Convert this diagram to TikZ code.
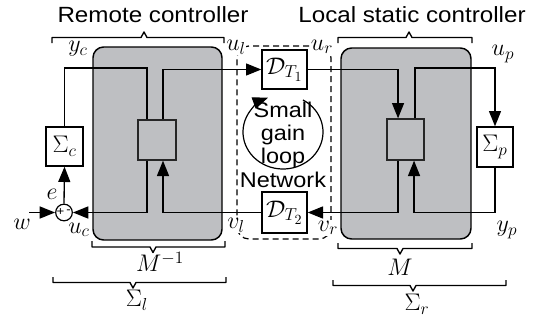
\RequirePackage{fix-cm}
\documentclass[tikz,border=0pt]{standalone}
\usepackage{fontspec}
\newfontfamily\hv[FakeStretch=1.1]{Liberation Sans}
\DeclareMathSizes{18}{18}{13}{10.5}
\usetikzlibrary{arrows.meta,calc}
\definecolor{boxgray}{RGB}{190,191,194}
\begin{document}
\begin{tikzpicture}[x=0.75pt,y=-0.75pt, line width=1pt,
  arr/.style={-{Triangle[length=11.5pt,width=9pt]}},
  blk/.style={draw, fill=boxgray, rounded corners=8pt, line width=1.1pt, inner sep=0pt},
  sq/.style={draw=black!85, fill=boxgray, inner sep=0pt, line width=1pt},
  wbox/.style={draw, fill=white, inner sep=0pt, font=\fontsize{18}{21}\selectfont},
  lab/.style={inner sep=0pt, font=\fontsize{18}{21}\selectfont},
  wlab/.style={lab, fill=white, inner sep=0.5pt},
  ttl/.style={inner sep=0pt, font=\hv\fontsize{16.5}{17}\selectfont, anchor=base},
  sg/.style={inner sep=0pt, font=\hv\fontsize{16}{17}\selectfont, align=center},
  brc/.style={line width=1pt, line join=round}]
\useasboundingbox (0,0) rectangle (541,325);
% helper coordinates
\coordinate (topl) at (0,68);
\coordinate (bot) at (0,212.5);
\coordinate (win) at (29,212.5);
\coordinate (cc) at (283,132);
% titles
\node[ttl] (t1) at (153,22) {Remote controller};
\node[ttl] (t2) at (412,22) {Local static controller};
% blocks
\node[blk, minimum width=96.75pt, minimum height=144.75pt] (LB) at (157.5,143.5) {};
\node[blk, minimum width=97.5pt, minimum height=143.25pt] (RB) at (406,143.5) {};
\node[sq, minimum width=28.5pt, minimum height=30pt] (LSq) at (157,140) {};
\node[sq, minimum width=27.75pt, minimum height=30.75pt] (RSq) at (405.5,139.5) {};
\node[wbox, minimum width=27.75pt, minimum height=29.25pt] (Sc) at (64.5,146.5) {$\Sigma_c$};
\node[wbox, minimum width=27pt, minimum height=30pt] (Sp) at (495,147) {$\Sigma_p$};
% network
\node[draw, dash pattern=on 4.5pt off 3pt, rounded corners=9pt, line width=0.9pt,
      minimum width=70.5pt, minimum height=144.75pt, inner sep=0pt] (NW) at (284,142.5) {};
\node[wbox, minimum width=33.75pt, minimum height=29.25pt] (DT1) at (284.5,69.5) {$\mathcal{D}_{T_1}$};
\node[wbox, minimum width=33.75pt, minimum height=30.75pt] (DT2) at (284.5,212.5) {$\mathcal{D}_{T_2}$};
% summing junction
\node[draw, circle, minimum size=12.5pt, inner sep=0pt, fill=white, line width=0.9pt] (sum) at (64,212.5) {};
\node[inner sep=0pt, font=\hv\fontsize{9}{9}\selectfont] (plus) at (60.5,212) {+};
\node[inner sep=0pt, font=\hv\fontsize{9}{9}\selectfont] (minus) at (68.5,212) {-};
% connectors left
\draw (Sc.north) -- (Sc.north |- topl) -| ([xshift=-7.5pt]LSq.north);
\draw[arr] ([xshift=4.5pt]LSq.north) |- (DT1.west);
\draw[arr] ([xshift=-7.5pt]LSq.south) |- (sum.east);
\draw[arr] (DT2.west) -| ([xshift=4.5pt]LSq.south);
\draw[arr] (sum.north) -- (Sc.south);
\draw[arr] (win) -- (sum.west);
% connectors right
\draw[arr] (DT1.east) -| ([xshift=-5.6pt]RSq.north);
\draw[arr] ([xshift=7.1pt]RSq.north) -- ([xshift=7.1pt]RSq.north |- topl) -| (Sp.north);
\draw[arr] (Sp.south) -- (Sp.south |- bot) -| ([xshift=6.4pt]RSq.south);
\draw[arr] ([xshift=-5.6pt]RSq.south) |- (DT2.east);
% small gain loop
\draw[arr, line width=0.9pt] (cc) ++(-60:40 and 37) arc[start angle=-60, end angle=248, x radius=40, y radius=37];
\node[sg] (sgl) at (283,135) {Small\\gain\\loop};
\node[ttl, font=\hv\fontsize{16}{17}\selectfont] (nwl) at (283,187) {Network};
% labels
\node[lab] (lyc) at (78,49) {$y_c$};
\node[wlab] (lul) at (236,47) {$u_l$};
\node[wlab] (lur) at (322,47) {$u_r$};
\node[wlab] (lvl) at (236,225) {$v_l$};
\node[wlab] (lvr) at (328,228) {$v_r$};
\node[lab] (luc) at (79,230) {$u_c$};
\node[lab] (le) at (52,194) {$e$};
\node[lab] (lw) at (22,224) {$w$};
\node[lab] (lup) at (503,54) {$u_p$};
\node[lab] (lyp) at (507,230) {$y_p$};
\node[lab] (lMi) at (160,262) {$M^{-1}$};
\node[lab] (lSl) at (137,300) {$\Sigma_l$};
\node[lab] (lM) at (400,267) {$M$};
\node[lab] (lSr) at (417,304) {$\Sigma_r$};
% braces
\draw[brc] (52,43) -- (52,37.5) -- (141,37.5) -- (144,32) -- (147,37.5) -- (224,37.5) -- (224,43);
\draw[brc] (338,43) -- (338,37.5) -- (406,37.5) -- (409,32) -- (412,37.5) -- (472,37.5) -- (472,43);
\draw[brc] (92,241) -- (92,247) -- (150,247) -- (153,252.5) -- (156,247) -- (225,247) -- (225,241);
\draw[brc] (53,277) -- (53,282.5) -- (130,282.5) -- (133,288) -- (136,282.5) -- (226,282.5) -- (226,277);
\draw[brc] (338,243) -- (338,248.5) -- (397,248.5) -- (400,254) -- (403,248.5) -- (472,248.5) -- (472,243);
\draw[brc] (333,280) -- (333,285.5) -- (410,285.5) -- (413,291) -- (416,285.5) -- (506,285.5) -- (506,280);
\end{tikzpicture}
\end{document}
